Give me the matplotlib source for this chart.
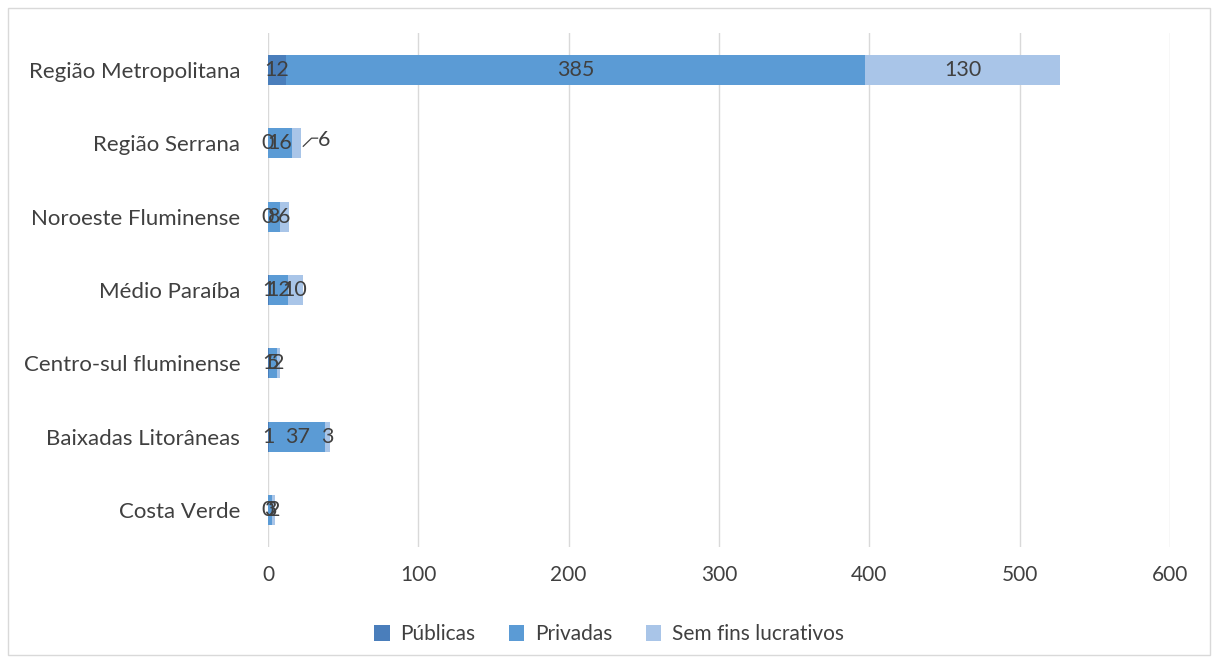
import matplotlib
matplotlib.use("Agg")
import matplotlib.pyplot as plt
from matplotlib.patches import Rectangle
import numpy as np

plt.rcParams['font.family'] = ['Lato', 'DejaVu Sans']

regioes = ["Região Metropolitana", "Região Serrana", "Noroeste Fluminense",
           "Médio Paraíba", "Centro-sul fluminense", "Baixadas Litorâneas",
           "Costa Verde"]
publicas = [12, 0, 0, 1, 1, 1, 0]
privadas = [385, 16, 8, 12, 5, 37, 3]
sem_fins = [130, 6, 6, 10, 2, 3, 2]
series = ["Públicas", "Privadas", "Sem fins lucrativos"]
cores = ["#4A7EBB", "#5B9BD5", "#A9C5E8"]
xticks = [0, 100, 200, 300, 400, 500, 600]

fig = plt.figure(figsize=(12.18, 6.63), dpi=100)
ax = fig.add_axes([0.22, 0.1754, 0.7406, 0.7744])

y = np.arange(len(regioes))
left = np.zeros(len(regioes))
txt_col = "#404040"
for nome, vals, cor in zip(series, [publicas, privadas, sem_fins], cores):
    vals = np.array(vals, dtype=float)
    ax.barh(y, vals, left=left, height=0.41, color=cor, label=nome, zorder=3)
    for i, v in enumerate(vals):
        cx = left[i] + v / 2
        if nome == "Sem fins lucrativos" and regioes[i] == "Região Serrana":
            # label pushed outside with a leader line
            end = left[i] + v
            ax.plot([end + 1.5, end + 7, end + 11], [i + 0.04, i - 0.07, i - 0.07],
                    color=txt_col, lw=0.9, zorder=5)
            ax.text(end + 15, i - 0.04, str(int(v)), ha="center", va="center",
                    fontsize=15.5, color=txt_col, zorder=5)
        else:
            ax.text(cx, i, str(int(v)), ha="center", va="center",
                    fontsize=15.5, color=txt_col, zorder=5)
    left += vals

ax.set_ylim(len(regioes) - 0.5, -0.5)
ax.set_xlim(0, 600)
ax.set_xticks(xticks)
ax.set_yticks(y)
ax.set_yticklabels(regioes)
ax.tick_params(axis="both", length=0, colors=txt_col)
ax.tick_params(axis="y", pad=20, labelsize=16)
ax.tick_params(axis="x", pad=13, labelsize=15)
ax.grid(axis="x", color="#D9D9D9", lw=1, zorder=0)
for s in ax.spines.values():
    s.set_visible(False)
ax.axvline(0, color="#D9D9D9", lw=1.2, zorder=1)

fig.legend(loc="lower center", bbox_to_anchor=(0.5, 0.0), ncol=3,
           frameon=False, fontsize=15, handlelength=0.75, handleheight=0.75,
           columnspacing=1.6, handletextpad=0.5, labelcolor=txt_col)

fig.patches.append(Rectangle((8 / 1218, 8 / 663), 1202 / 1218, 647 / 663,
                             transform=fig.transFigure, fill=False,
                             edgecolor="#D9D9D9", lw=1))

fig.savefig("out.png", dpi=100)
